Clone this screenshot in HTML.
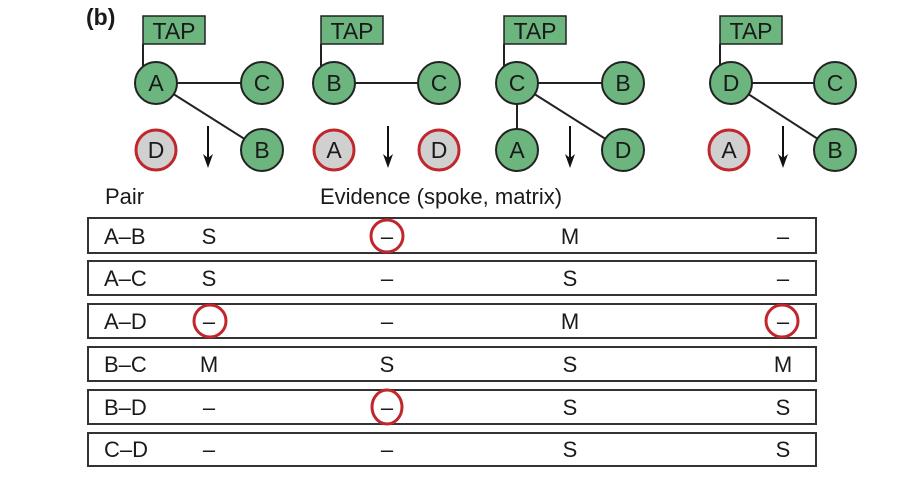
<!DOCTYPE html>
<html><head><meta charset="utf-8"><style>
html,body{margin:0;padding:0;background:#fff;width:913px;height:485px;overflow:hidden}
svg{display:block}
text{font-family:"Liberation Sans",sans-serif;fill:#1a1a1a}
</style></head><body>
<svg width="913" height="485" viewBox="0 0 913 485">
<text x="86" y="25" font-size="23" font-weight="bold">(b)</text>
<g stroke="#222" stroke-width="2">
<line x1="143" y1="44" x2="143" y2="66"/>
<line x1="156" y1="83" x2="262" y2="83"/><line x1="156" y1="83" x2="262" y2="150"/>
<line x1="321" y1="44" x2="321" y2="66"/>
<line x1="334" y1="83" x2="439" y2="83"/>
<line x1="504" y1="44" x2="504" y2="66"/>
<line x1="517" y1="83" x2="623" y2="83"/><line x1="517" y1="83" x2="623" y2="150"/><line x1="517" y1="83" x2="517" y2="150"/>
<line x1="720" y1="44" x2="720" y2="66"/>
<line x1="731" y1="83" x2="835" y2="83"/><line x1="731" y1="83" x2="835" y2="150"/>
</g>
<g fill="#6db57f" stroke="#222" stroke-width="1.5">
<rect x="143" y="16" width="62" height="28"/>
<rect x="321" y="16" width="62" height="28"/>
<rect x="504" y="16" width="62" height="28"/>
<rect x="720" y="16" width="62" height="28"/>
</g>
<g font-size="23" text-anchor="middle">
<text x="174" y="39">TAP</text><text x="352" y="39">TAP</text><text x="535" y="39">TAP</text><text x="751" y="39">TAP</text>
</g>
<g fill="#6db57f" stroke="#222" stroke-width="2">
<circle cx="156" cy="83" r="21"/><circle cx="262" cy="83" r="21"/><circle cx="262" cy="150" r="21"/>
<circle cx="334" cy="83" r="21"/><circle cx="439" cy="83" r="21"/>
<circle cx="517" cy="83" r="21"/><circle cx="623" cy="83" r="21"/><circle cx="517" cy="150" r="21"/><circle cx="623" cy="150" r="21"/>
<circle cx="731" cy="83" r="21"/><circle cx="835" cy="83" r="21"/><circle cx="835" cy="150" r="21"/>
</g>
<g fill="#d0d0d0" stroke="#c0272d" stroke-width="3">
<circle cx="156" cy="150" r="20"/><circle cx="334" cy="150" r="20"/><circle cx="439" cy="150" r="20"/><circle cx="729" cy="150" r="20"/>
</g>
<g font-size="23" text-anchor="middle">
<text x="156" y="91">A</text><text x="262" y="91">C</text><text x="262" y="158">B</text><text x="156" y="158">D</text>
<text x="334" y="91">B</text><text x="439" y="91">C</text><text x="334" y="158">A</text><text x="439" y="158">D</text>
<text x="517" y="91">C</text><text x="623" y="91">B</text><text x="517" y="158">A</text><text x="623" y="158">D</text>
<text x="731" y="91">D</text><text x="835" y="91">C</text><text x="729" y="158">A</text><text x="835" y="158">B</text>
</g>
<g stroke="#111" stroke-width="2">
<line x1="208" y1="126" x2="208" y2="160"/>
<line x1="388" y1="126" x2="388" y2="160"/>
<line x1="570" y1="126" x2="570" y2="160"/>
<line x1="783" y1="126" x2="783" y2="160"/>
</g>
<g fill="#111">
<path d="M203,154 L208,168 L213,154 L208,158 Z"/>
<path d="M383,154 L388,168 L393,154 L388,158 Z"/>
<path d="M565,154 L570,168 L575,154 L570,158 Z"/>
<path d="M778,154 L783,168 L788,154 L783,158 Z"/>
</g>
<text x="105" y="204" font-size="22">Pair</text>
<text x="320" y="204" font-size="22">Evidence (spoke, matrix)</text>
<g fill="none" stroke="#333" stroke-width="2">
<rect x="88" y="218" width="728" height="35"/>
<rect x="88" y="261" width="728" height="34"/>
<rect x="88" y="304" width="728" height="34"/>
<rect x="88" y="347" width="728" height="34"/>
<rect x="88" y="390" width="728" height="34"/>
<rect x="88" y="433" width="728" height="33"/>
</g>
<g font-size="22">
<text x="104" y="244">A–B</text><text x="104" y="286">A–C</text><text x="104" y="329">A–D</text>
<text x="104" y="372">B–C</text><text x="104" y="415">B–D</text><text x="104" y="457">C–D</text>
</g>
<g font-size="22" text-anchor="middle">
<text x="209" y="244">S</text><text x="387" y="244">–</text><text x="570" y="244">M</text><text x="783" y="244">–</text>
<text x="209" y="286">S</text><text x="387" y="286">–</text><text x="570" y="286">S</text><text x="783" y="286">–</text>
<text x="209" y="329">–</text><text x="387" y="329">–</text><text x="570" y="329">M</text><text x="783" y="329">–</text>
<text x="209" y="372">M</text><text x="387" y="372">S</text><text x="570" y="372">S</text><text x="783" y="372">M</text>
<text x="209" y="415">–</text><text x="387" y="415">–</text><text x="570" y="415">S</text><text x="783" y="415">S</text>
<text x="209" y="457">–</text><text x="387" y="457">–</text><text x="570" y="457">S</text><text x="783" y="457">S</text>
</g>
<g fill="none" stroke="#c0272d" stroke-width="3">
<circle cx="387" cy="236" r="16"/>
<circle cx="210" cy="321" r="16"/>
<circle cx="782" cy="321" r="16"/>
<ellipse cx="387" cy="407" rx="15" ry="17"/>
</g>
</svg>
</body></html>
